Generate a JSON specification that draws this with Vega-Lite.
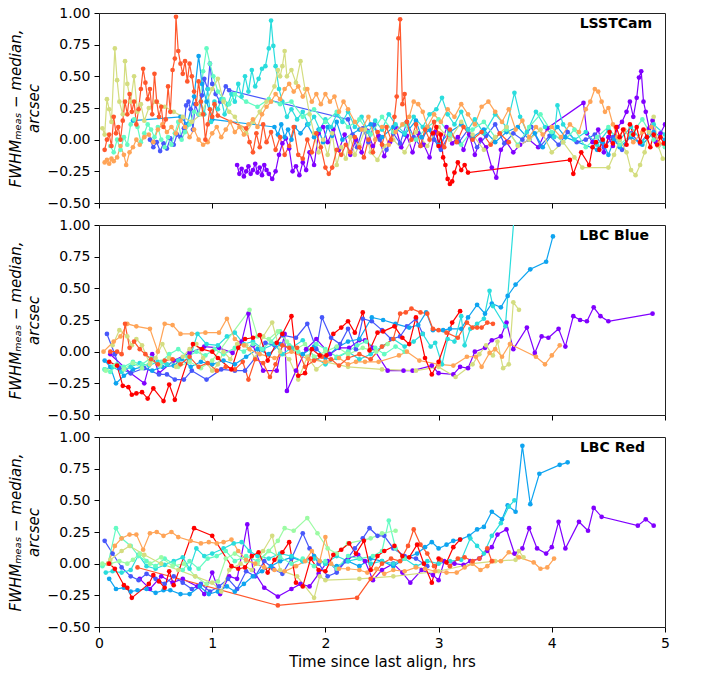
{
"$schema": "https://vega.github.io/schema/vega-lite/v6.json",
"padding": {"left": 7, "top": 5, "right": 5, "bottom": 5},
"background": "white",
"bounds": "flush",
"spacing": 22,
"config": {
 "font": "DejaVu Sans",
 "view": {"stroke": "#222", "strokeWidth": 1},
 "axis": {"grid": false, "domain": false, "tickColor": "#000", "tickSize": 5, "labelFontSize": 14, "labelColor": "#000", "titleFontSize": 15, "titleFontWeight": "normal", "titleColor": "#000", "labelPadding": 4},
 "axisY": {"titleFontStyle": "italic", "titleLineHeight": 18, "titlePadding": 6}
},
"datasets": {
"a": [
{"s":0,"x":1.22,"y":-0.2},{"s":0,"x":1.24,"y":-0.27},{"s":0,"x":1.26,"y":-0.23},{"s":0,"x":1.28,"y":-0.29},{"s":0,"x":1.3,"y":-0.25},{"s":0,"x":1.32,"y":-0.21},{"s":0,"x":1.34,"y":-0.27},{"s":0,"x":1.36,"y":-0.24},{"s":0,"x":1.38,"y":-0.19},{"s":0,"x":1.4,"y":-0.26},{"s":0,"x":1.42,"y":-0.22},{"s":0,"x":1.44,"y":-0.28},{"s":0,"x":1.46,"y":-0.2},{"s":0,"x":1.48,"y":-0.24},{"s":0,"x":1.5,"y":-0.27},{"s":0,"x":1.53,"y":-0.31},{"s":0,"x":1.56,"y":-0.25},{"s":0,"x":1.59,"y":-0.12},{"s":0,"x":1.62,"y":-0.03},{"s":0,"x":1.65,"y":0.01},{"s":0,"x":1.68,"y":-0.07},{"s":0,"x":1.71,"y":-0.25},{"s":0,"x":1.74,"y":-0.21},{"s":0,"x":1.77,"y":-0.28},{"s":0,"x":1.8,"y":-0.18},{"s":0,"x":1.83,"y":-0.24},{"s":0,"x":1.86,"y":-0.1},{"s":0,"x":1.9,"y":-0.2},{"s":0,"x":1.94,"y":0.05},{"s":0,"x":1.98,"y":0.1},{"s":0,"x":2.02,"y":-0.02},{"s":0,"x":2.07,"y":0.08},{"s":0,"x":2.12,"y":-0.08},{"s":0,"x":2.17,"y":0.04},{"s":0,"x":2.22,"y":-0.12},{"s":0,"x":2.27,"y":0.0},{"s":0,"x":2.32,"y":-0.1},{"s":0,"x":2.37,"y":0.07},{"s":0,"x":2.42,"y":-0.05},{"s":0,"x":2.47,"y":0.03},{"s":0,"x":2.52,"y":-0.13},{"s":0,"x":2.57,"y":-0.02},{"s":0,"x":2.62,"y":0.1},{"s":0,"x":2.67,"y":-0.06},{"s":0,"x":2.72,"y":0.03},{"s":0,"x":2.77,"y":-0.1},{"s":0,"x":2.82,"y":0.05},{"s":0,"x":2.87,"y":-0.04},{"s":0,"x":2.92,"y":-0.14},{"s":0,"x":2.97,"y":0.06},{"s":0,"x":3.02,"y":-0.07},{"s":0,"x":3.07,"y":0.1},{"s":0,"x":3.12,"y":-0.03},{"s":0,"x":3.17,"y":0.02},{"s":0,"x":3.22,"y":-0.08},{"s":0,"x":3.27,"y":0.04},{"s":0,"x":3.32,"y":-0.12},{"s":0,"x":3.37,"y":0.0},{"s":0,"x":3.42,"y":-0.06},{"s":0,"x":3.47,"y":-0.22},{"s":0,"x":3.51,"y":-0.3},{"s":0,"x":3.55,"y":-0.08},{"s":0,"x":3.6,"y":-0.02},{"s":0,"x":3.66,"y":-0.1},{"s":0,"x":3.72,"y":-0.04},{"s":0,"x":3.8,"y":0.0},{"s":0,"x":3.88,"y":-0.06},{"s":0,"x":3.96,"y":0.09},{"s":0,"x":4.28,"y":0.29},{"s":0,"x":4.31,"y":0.05},{"s":0,"x":4.36,"y":-0.02},{"s":0,"x":4.41,"y":0.08},{"s":0,"x":4.46,"y":-0.1},{"s":0,"x":4.5,"y":0.02},{"s":0,"x":4.54,"y":-0.05},{"s":0,"x":4.58,"y":0.1},{"s":0,"x":4.62,"y":0.14},{"s":0,"x":4.66,"y":0.22},{"s":0,"x":4.69,"y":0.3},{"s":0,"x":4.72,"y":0.18},{"s":0,"x":4.75,"y":0.33},{"s":0,"x":4.77,"y":0.49},{"s":0,"x":4.79,"y":0.54},{"s":0,"x":4.81,"y":0.3},{"s":0,"x":4.83,"y":0.22},{"s":0,"x":4.86,"y":0.09},{"s":0,"x":4.89,"y":0.15},{"s":0,"x":4.92,"y":-0.02},{"s":0,"x":4.96,"y":0.05},{"s":0,"x":5.0,"y":0.12},
{"s":1,"x":0.45,"y":0.0},{"s":1,"x":0.48,"y":-0.06},{"s":1,"x":0.51,"y":-0.02},{"s":1,"x":0.54,"y":-0.09},{"s":1,"x":0.57,"y":-0.03},{"s":1,"x":0.6,"y":-0.07},{"s":1,"x":0.63,"y":0.01},{"s":1,"x":0.66,"y":-0.04},{"s":1,"x":0.69,"y":0.04},{"s":1,"x":0.72,"y":0.02},{"s":1,"x":0.75,"y":0.09},{"s":1,"x":0.77,"y":0.27},{"s":1,"x":0.79,"y":0.3},{"s":1,"x":0.81,"y":0.24},{"s":1,"x":0.83,"y":0.08},{"s":1,"x":0.85,"y":0.28},{"s":1,"x":0.88,"y":0.2},{"s":1,"x":0.91,"y":0.35},{"s":1,"x":0.93,"y":0.48},{"s":1,"x":0.96,"y":0.4},{"s":1,"x":0.98,"y":0.6},{"s":1,"x":1.0,"y":0.44},{"s":1,"x":1.03,"y":0.36},{"s":1,"x":1.07,"y":0.3},{"s":1,"x":1.12,"y":0.42},{"s":1,"x":1.15,"y":0.39},{"s":1,"x":2.2,"y":0.16},{"s":1,"x":2.24,"y":0.04},{"s":1,"x":2.28,"y":-0.06},{"s":1,"x":2.33,"y":0.09},{"s":1,"x":2.38,"y":-0.02},{"s":1,"x":2.43,"y":0.12},{"s":1,"x":2.48,"y":0.0},{"s":1,"x":2.54,"y":-0.08},{"s":1,"x":2.6,"y":0.05},{"s":1,"x":2.66,"y":-0.03},{"s":1,"x":2.72,"y":0.14},{"s":1,"x":2.78,"y":0.02},{"s":1,"x":2.84,"y":-0.05},{"s":1,"x":2.9,"y":0.1},{"s":1,"x":2.96,"y":0.0},{"s":1,"x":3.02,"y":-0.08},{"s":1,"x":3.1,"y":0.05},{"s":1,"x":3.18,"y":-0.02},{"s":1,"x":3.26,"y":0.08},{"s":1,"x":3.34,"y":-0.06},{"s":1,"x":3.42,"y":0.03},{"s":1,"x":3.5,"y":0.12},{"s":1,"x":3.58,"y":-0.03},{"s":1,"x":3.66,"y":0.05},{"s":1,"x":3.74,"y":0.0},{"s":1,"x":3.82,"y":0.1},{"s":1,"x":3.9,"y":-0.05},{"s":1,"x":3.98,"y":0.03},{"s":1,"x":4.06,"y":-0.04},{"s":1,"x":4.14,"y":0.06},{"s":1,"x":4.22,"y":-0.02},{"s":1,"x":4.3,"y":0.0},{"s":1,"x":4.38,"y":0.04},{"s":1,"x":4.46,"y":-0.06},{"s":1,"x":4.54,"y":0.02},{"s":1,"x":4.62,"y":-0.08},{"s":1,"x":4.7,"y":0.05},{"s":1,"x":4.78,"y":-0.03},{"s":1,"x":4.86,"y":0.06},{"s":1,"x":4.94,"y":-0.05},
{"s":2,"x":0.3,"y":0.15},{"s":2,"x":0.72,"y":0.18},{"s":2,"x":0.78,"y":0.12},{"s":2,"x":0.84,"y":0.34},{"s":2,"x":0.88,"y":0.66},{"s":2,"x":0.91,"y":0.44},{"s":2,"x":0.95,"y":0.3},{"s":2,"x":1.0,"y":0.16},{"s":2,"x":1.55,"y":0.1},{"s":2,"x":1.58,"y":0.04},{"s":2,"x":1.61,"y":0.12},{"s":2,"x":1.64,"y":0.02},{"s":2,"x":1.67,"y":0.08},{"s":2,"x":1.7,"y":0.0},{"s":2,"x":1.73,"y":0.1},{"s":2,"x":1.78,"y":0.05},{"s":2,"x":1.84,"y":0.12},{"s":2,"x":1.9,"y":0.02},{"s":2,"x":1.94,"y":0.08},{"s":2,"x":1.98,"y":-0.02},{"s":2,"x":2.02,"y":0.1},{"s":2,"x":2.06,"y":0.03},{"s":2,"x":2.1,"y":0.14},{"s":2,"x":2.15,"y":0.0},{"s":2,"x":2.3,"y":0.08},{"s":2,"x":2.4,"y":0.12},{"s":2,"x":2.5,"y":0.02},{"s":2,"x":2.6,"y":0.1},{"s":2,"x":2.7,"y":0.04},{"s":2,"x":2.8,"y":0.15},{"s":2,"x":2.85,"y":0.02},{"s":2,"x":2.92,"y":0.08},{"s":2,"x":3.0,"y":-0.04},{"s":2,"x":3.1,"y":0.06},{"s":2,"x":3.2,"y":0.12},{"s":2,"x":3.3,"y":0.02},{"s":2,"x":3.4,"y":0.08},{"s":2,"x":3.5,"y":-0.02},{"s":2,"x":3.6,"y":0.06},{"s":2,"x":3.7,"y":0.1},{"s":2,"x":3.8,"y":0.0},{"s":2,"x":3.85,"y":0.05},{"s":2,"x":3.92,"y":-0.06},{"s":2,"x":4.0,"y":0.04},{"s":2,"x":4.05,"y":0.1},{"s":2,"x":4.12,"y":0.02},{"s":2,"x":4.4,"y":-0.08},{"s":2,"x":4.45,"y":-0.02},{"s":2,"x":4.5,"y":-0.12},{"s":2,"x":4.55,"y":0.0},{"s":2,"x":4.6,"y":-0.06},{"s":2,"x":4.7,"y":0.02},{"s":2,"x":4.8,"y":-0.04},{"s":2,"x":4.9,"y":0.06},{"s":2,"x":5.0,"y":0.0},
{"s":3,"x":0.9,"y":0.3},{"s":3,"x":0.93,"y":0.2},{"s":3,"x":0.96,"y":0.4},{"s":3,"x":0.99,"y":0.14},{"s":3,"x":1.02,"y":0.3},{"s":3,"x":1.05,"y":0.24},{"s":3,"x":1.08,"y":0.32},{"s":3,"x":1.11,"y":0.2},{"s":3,"x":1.14,"y":0.28},{"s":3,"x":1.17,"y":0.36},{"s":3,"x":1.2,"y":0.3},{"s":3,"x":1.23,"y":0.44},{"s":3,"x":1.26,"y":0.34},{"s":3,"x":1.29,"y":0.5},{"s":3,"x":1.32,"y":0.38},{"s":3,"x":1.35,"y":0.55},{"s":3,"x":1.38,"y":0.42},{"s":3,"x":1.41,"y":0.48},{"s":3,"x":1.44,"y":0.56},{"s":3,"x":1.47,"y":0.58},{"s":3,"x":1.5,"y":0.72},{"s":3,"x":1.52,"y":0.94},{"s":3,"x":1.54,"y":0.74},{"s":3,"x":1.56,"y":0.58},{"s":3,"x":1.59,"y":0.4},{"s":3,"x":1.62,"y":0.3},{"s":3,"x":1.66,"y":0.18},{"s":3,"x":1.7,"y":0.24},{"s":3,"x":1.75,"y":0.16},{"s":3,"x":1.8,"y":0.22},{"s":3,"x":1.85,"y":0.12},{"s":3,"x":1.9,"y":0.18},{"s":3,"x":1.95,"y":0.08},{"s":3,"x":2.0,"y":0.16},{"s":3,"x":2.05,"y":0.1},{"s":3,"x":2.1,"y":0.2},{"s":3,"x":2.15,"y":0.14},{"s":3,"x":2.2,"y":0.22},{"s":3,"x":2.26,"y":0.1},{"s":3,"x":2.32,"y":0.18},{"s":3,"x":2.38,"y":0.06},{"s":3,"x":2.44,"y":0.15},{"s":3,"x":2.5,"y":0.08},{"s":3,"x":2.56,"y":0.2},{"s":3,"x":2.62,"y":0.12},{"s":3,"x":2.7,"y":0.05},{"s":3,"x":2.78,"y":0.18},{"s":3,"x":2.86,"y":0.1},{"s":3,"x":2.92,"y":0.2},{"s":3,"x":2.98,"y":0.24},{"s":3,"x":3.03,"y":0.33},{"s":3,"x":3.08,"y":0.2},{"s":3,"x":3.14,"y":0.12},{"s":3,"x":3.2,"y":0.22},{"s":3,"x":3.26,"y":0.08},{"s":3,"x":3.32,"y":0.16},{"s":3,"x":3.4,"y":0.05},{"s":3,"x":3.5,"y":0.2},{"s":3,"x":3.6,"y":0.1},{"s":3,"x":3.67,"y":0.37},{"s":3,"x":3.72,"y":0.18},{"s":3,"x":3.78,"y":0.06},{"s":3,"x":3.86,"y":0.22},{"s":3,"x":3.94,"y":0.1},{"s":3,"x":4.02,"y":0.02},{"s":3,"x":4.05,"y":0.27},{"s":3,"x":4.1,"y":0.12},{"s":3,"x":4.2,"y":0.0},{"s":3,"x":4.3,"y":0.06},{"s":3,"x":4.4,"y":-0.04},{"s":3,"x":4.5,"y":0.08},{"s":3,"x":4.6,"y":0.0},{"s":3,"x":4.7,"y":0.1},{"s":3,"x":4.8,"y":-0.02},{"s":3,"x":4.9,"y":0.12},{"s":3,"x":5.0,"y":0.04},
{"s":4,"x":0.1,"y":-0.05},{"s":4,"x":0.13,"y":-0.1},{"s":4,"x":0.16,"y":0.0},{"s":4,"x":0.19,"y":-0.08},{"s":4,"x":0.22,"y":0.02},{"s":4,"x":0.25,"y":-0.04},{"s":4,"x":0.28,"y":0.12},{"s":4,"x":0.31,"y":0.16},{"s":4,"x":0.34,"y":0.1},{"s":4,"x":0.37,"y":-0.02},{"s":4,"x":0.4,"y":0.05},{"s":4,"x":0.43,"y":0.12},{"s":4,"x":0.46,"y":0.08},{"s":4,"x":0.49,"y":0.02},{"s":4,"x":0.52,"y":0.1},{"s":4,"x":0.55,"y":0.0},{"s":4,"x":0.58,"y":-0.06},{"s":4,"x":0.61,"y":0.02},{"s":4,"x":0.64,"y":-0.04},{"s":4,"x":0.67,"y":0.05},{"s":4,"x":0.7,"y":0.14},{"s":4,"x":0.73,"y":0.0},{"s":4,"x":0.76,"y":0.06},{"s":4,"x":0.8,"y":0.12},{"s":4,"x":0.84,"y":0.22},{"s":4,"x":0.88,"y":0.2},{"s":4,"x":0.92,"y":0.54},{"s":4,"x":0.95,"y":0.72},{"s":4,"x":0.98,"y":0.6},{"s":4,"x":1.01,"y":0.5},{"s":4,"x":1.05,"y":0.38},{"s":4,"x":1.1,"y":0.32},{"s":4,"x":1.15,"y":0.28},{"s":4,"x":1.2,"y":0.36},{"s":4,"x":1.3,"y":0.3},{"s":4,"x":1.4,"y":0.26},{"s":4,"x":1.5,"y":0.32},{"s":4,"x":1.6,"y":0.28},{"s":4,"x":1.7,"y":0.3},{"s":4,"x":1.8,"y":0.18},{"s":4,"x":1.9,"y":0.24},{"s":4,"x":2.0,"y":0.14},{"s":4,"x":2.1,"y":0.22},{"s":4,"x":2.2,"y":0.1},{"s":4,"x":2.3,"y":0.16},{"s":4,"x":2.4,"y":0.04},{"s":4,"x":2.5,"y":0.18},{"s":4,"x":2.6,"y":0.06},{"s":4,"x":2.7,"y":0.12},{"s":4,"x":2.8,"y":0.0},{"s":4,"x":2.9,"y":0.1},{"s":4,"x":3.0,"y":0.16},{"s":4,"x":3.1,"y":0.04},{"s":4,"x":3.2,"y":-0.04},{"s":4,"x":3.3,"y":0.08},{"s":4,"x":3.4,"y":0.14},{"s":4,"x":3.5,"y":0.02},{"s":4,"x":3.6,"y":0.08},{"s":4,"x":3.7,"y":-0.04},{"s":4,"x":3.8,"y":0.1},{"s":4,"x":3.9,"y":0.2},{"s":4,"x":4.0,"y":0.06},{"s":4,"x":4.1,"y":-0.02},{"s":4,"x":4.2,"y":0.08},{"s":4,"x":4.3,"y":-0.06},{"s":4,"x":4.4,"y":0.02},{"s":4,"x":4.5,"y":0.1},{"s":4,"x":4.6,"y":-0.04},{"s":4,"x":4.7,"y":0.04},{"s":4,"x":4.8,"y":0.16},{"s":4,"x":4.9,"y":0.0},{"s":4,"x":5.0,"y":-0.06},
{"s":6,"x":0.03,"y":0.09},{"s":6,"x":0.05,"y":0.04},{"s":6,"x":0.07,"y":0.32},{"s":6,"x":0.09,"y":0.24},{"s":6,"x":0.11,"y":0.14},{"s":6,"x":0.14,"y":0.72},{"s":6,"x":0.16,"y":0.47},{"s":6,"x":0.18,"y":0.3},{"s":6,"x":0.21,"y":0.2},{"s":6,"x":0.23,"y":0.62},{"s":6,"x":0.25,"y":0.44},{"s":6,"x":0.28,"y":0.3},{"s":6,"x":0.31,"y":0.5},{"s":6,"x":0.34,"y":0.22},{"s":6,"x":0.37,"y":0.28},{"s":6,"x":0.4,"y":0.15},{"s":6,"x":0.44,"y":0.25},{"s":6,"x":0.5,"y":0.3},{"s":6,"x":0.58,"y":0.26},{"s":6,"x":0.66,"y":0.22},{"s":6,"x":0.74,"y":0.18},{"s":6,"x":0.82,"y":0.14},{"s":6,"x":0.9,"y":0.2},{"s":6,"x":1.0,"y":0.4},{"s":6,"x":1.05,"y":0.48},{"s":6,"x":1.1,"y":0.3},{"s":6,"x":1.15,"y":0.22},{"s":6,"x":1.2,"y":0.18},{"s":6,"x":1.25,"y":0.1},{"s":6,"x":1.3,"y":0.05},{"s":6,"x":1.36,"y":0.14},{"s":6,"x":1.42,"y":0.22},{"s":6,"x":1.48,"y":0.3},{"s":6,"x":1.55,"y":0.42},{"s":6,"x":1.58,"y":0.55},{"s":6,"x":1.6,"y":0.5},{"s":6,"x":1.62,"y":0.58},{"s":6,"x":1.64,"y":0.7},{"s":6,"x":1.66,"y":0.5},{"s":6,"x":1.7,"y":0.55},{"s":6,"x":1.74,"y":0.45},{"s":6,"x":1.78,"y":0.62},{"s":6,"x":1.82,"y":0.4},{"s":6,"x":1.86,"y":0.2},{"s":6,"x":1.9,"y":0.05},{"s":6,"x":1.94,"y":-0.1},{"s":6,"x":1.98,"y":0.0},{"s":6,"x":2.02,"y":-0.12},{"s":6,"x":2.06,"y":0.05},{"s":6,"x":2.1,"y":-0.2},{"s":6,"x":2.14,"y":-0.06},{"s":6,"x":2.18,"y":-0.15},{"s":6,"x":2.22,"y":0.02},{"s":6,"x":2.26,"y":-0.12},{"s":6,"x":2.3,"y":-0.04},{"s":6,"x":2.35,"y":0.08},{"s":6,"x":2.4,"y":-0.1},{"s":6,"x":2.46,"y":-0.16},{"s":6,"x":2.52,"y":-0.05},{"s":6,"x":2.6,"y":0.0},{"s":6,"x":2.7,"y":-0.1},{"s":6,"x":2.8,"y":0.06},{"s":6,"x":2.9,"y":-0.05},{"s":6,"x":3.0,"y":0.1},{"s":6,"x":3.1,"y":0.0},{"s":6,"x":3.2,"y":0.14},{"s":6,"x":3.3,"y":0.04},{"s":6,"x":3.4,"y":-0.08},{"s":6,"x":3.5,"y":0.02},{"s":6,"x":3.6,"y":0.1},{"s":6,"x":3.7,"y":-0.05},{"s":6,"x":3.8,"y":0.0},{"s":6,"x":3.9,"y":0.08},{"s":6,"x":4.0,"y":-0.1},{"s":6,"x":4.1,"y":-0.02},{"s":6,"x":4.2,"y":-0.14},{"s":6,"x":4.27,"y":-0.22},{"s":6,"x":4.5,"y":-0.22},{"s":6,"x":4.55,"y":-0.12},{"s":6,"x":4.6,"y":0.0},{"s":6,"x":4.66,"y":-0.1},{"s":6,"x":4.7,"y":-0.24},{"s":6,"x":4.74,"y":-0.28},{"s":6,"x":4.78,"y":-0.2},{"s":6,"x":4.82,"y":-0.1},{"s":6,"x":4.86,"y":0.06},{"s":6,"x":4.9,"y":0.18},{"s":6,"x":4.94,"y":-0.05},{"s":6,"x":4.98,"y":-0.15},
{"s":7,"x":0.05,"y":-0.18},{"s":7,"x":0.07,"y":-0.16},{"s":7,"x":0.09,"y":-0.19},{"s":7,"x":0.11,"y":-0.15},{"s":7,"x":0.13,"y":-0.17},{"s":7,"x":0.16,"y":-0.14},{"s":7,"x":0.19,"y":-0.05},{"s":7,"x":0.22,"y":-0.12},{"s":7,"x":0.24,"y":-0.2},{"s":7,"x":0.27,"y":-0.1},{"s":7,"x":0.3,"y":-0.06},{"s":7,"x":0.33,"y":0.0},{"s":7,"x":0.36,"y":-0.04},{"s":7,"x":0.4,"y":0.02},{"s":7,"x":0.44,"y":0.04},{"s":7,"x":0.48,"y":-0.02},{"s":7,"x":0.52,"y":0.08},{"s":7,"x":0.56,"y":0.12},{"s":7,"x":0.6,"y":0.06},{"s":7,"x":0.64,"y":0.1},{"s":7,"x":0.68,"y":0.05},{"s":7,"x":0.72,"y":0.15},{"s":7,"x":0.76,"y":0.1},{"s":7,"x":0.8,"y":0.02},{"s":7,"x":0.84,"y":0.08},{"s":7,"x":0.88,"y":0.0},{"s":7,"x":0.92,"y":-0.04},{"s":7,"x":0.96,"y":-0.02},{"s":7,"x":1.0,"y":0.05},{"s":7,"x":1.04,"y":0.1},{"s":7,"x":1.08,"y":0.02},{"s":7,"x":1.12,"y":0.08},{"s":7,"x":1.16,"y":0.14},{"s":7,"x":1.2,"y":0.06},{"s":7,"x":1.24,"y":0.1},{"s":7,"x":1.28,"y":0.04},{"s":7,"x":1.32,"y":0.12},{"s":7,"x":1.36,"y":0.16},{"s":7,"x":1.4,"y":0.1},{"s":7,"x":1.44,"y":0.2},{"s":7,"x":1.48,"y":0.26},{"s":7,"x":1.52,"y":0.3},{"s":7,"x":1.56,"y":0.36},{"s":7,"x":1.6,"y":0.32},{"s":7,"x":1.64,"y":0.4},{"s":7,"x":1.68,"y":0.44},{"s":7,"x":1.72,"y":0.38},{"s":7,"x":1.76,"y":0.42},{"s":7,"x":1.8,"y":0.34},{"s":7,"x":1.84,"y":0.4},{"s":7,"x":1.88,"y":0.3},{"s":7,"x":1.92,"y":0.36},{"s":7,"x":1.96,"y":0.28},{"s":7,"x":2.0,"y":0.36},{"s":7,"x":2.04,"y":0.3},{"s":7,"x":2.08,"y":0.34},{"s":7,"x":2.12,"y":0.22},{"s":7,"x":2.16,"y":0.3},{"s":7,"x":2.2,"y":0.24},{"s":7,"x":2.26,"y":0.14},{"s":7,"x":2.32,"y":0.08},{"s":7,"x":2.38,"y":0.18},{"s":7,"x":2.44,"y":0.0},{"s":7,"x":2.5,"y":0.1},{"s":7,"x":2.56,"y":-0.04},{"s":7,"x":2.62,"y":0.06},{"s":7,"x":2.68,"y":0.12},{"s":7,"x":2.74,"y":0.18},{"s":7,"x":2.78,"y":0.3},{"s":7,"x":2.82,"y":0.28},{"s":7,"x":2.86,"y":0.22},{"s":7,"x":2.9,"y":0.1},{"s":7,"x":2.96,"y":0.2},{"s":7,"x":3.02,"y":0.14},{"s":7,"x":3.08,"y":0.24},{"s":7,"x":3.14,"y":0.18},{"s":7,"x":3.2,"y":0.28},{"s":7,"x":3.26,"y":0.2},{"s":7,"x":3.32,"y":0.12},{"s":7,"x":3.38,"y":0.26},{"s":7,"x":3.44,"y":0.3},{"s":7,"x":3.5,"y":0.22},{"s":7,"x":3.56,"y":0.14},{"s":7,"x":3.62,"y":0.24},{"s":7,"x":3.68,"y":0.08},{"s":7,"x":3.74,"y":0.15},{"s":7,"x":3.8,"y":0.02},{"s":7,"x":3.86,"y":0.1},{"s":7,"x":3.92,"y":0.04},{"s":7,"x":4.0,"y":0.1},{"s":7,"x":4.08,"y":0.02},{"s":7,"x":4.16,"y":0.12},{"s":7,"x":4.24,"y":0.06},{"s":7,"x":4.3,"y":0.24},{"s":7,"x":4.34,"y":0.3},{"s":7,"x":4.38,"y":0.4},{"s":7,"x":4.41,"y":0.38},{"s":7,"x":4.44,"y":0.3},{"s":7,"x":4.47,"y":0.22},{"s":7,"x":4.5,"y":0.25},{"s":7,"x":4.54,"y":0.12},{"s":7,"x":4.58,"y":0.02},{"s":7,"x":4.64,"y":0.08},{"s":7,"x":4.72,"y":-0.02},{"s":7,"x":4.8,"y":0.06},{"s":7,"x":4.88,"y":0.1},{"s":7,"x":4.95,"y":-0.03},
{"s":8,"x":0.05,"y":-0.08},{"s":8,"x":0.07,"y":0.0},{"s":8,"x":0.09,"y":0.04},{"s":8,"x":0.11,"y":-0.05},{"s":8,"x":0.13,"y":0.18},{"s":8,"x":0.15,"y":0.05},{"s":8,"x":0.17,"y":0.1},{"s":8,"x":0.19,"y":0.0},{"s":8,"x":0.21,"y":0.15},{"s":8,"x":0.23,"y":0.3},{"s":8,"x":0.25,"y":0.2},{"s":8,"x":0.27,"y":0.36},{"s":8,"x":0.29,"y":0.22},{"s":8,"x":0.31,"y":0.3},{"s":8,"x":0.33,"y":0.12},{"s":8,"x":0.35,"y":0.24},{"s":8,"x":0.37,"y":0.4},{"s":8,"x":0.39,"y":0.56},{"s":8,"x":0.41,"y":0.45},{"s":8,"x":0.43,"y":0.32},{"s":8,"x":0.45,"y":0.4},{"s":8,"x":0.47,"y":0.2},{"s":8,"x":0.49,"y":0.52},{"s":8,"x":0.51,"y":0.3},{"s":8,"x":0.53,"y":0.18},{"s":8,"x":0.55,"y":0.26},{"s":8,"x":0.57,"y":0.1},{"s":8,"x":0.59,"y":0.16},{"s":8,"x":0.61,"y":0.42},{"s":8,"x":0.63,"y":0.22},{"s":8,"x":0.65,"y":0.55},{"s":8,"x":0.67,"y":0.64},{"s":8,"x":0.68,"y":0.97},{"s":8,"x":0.7,"y":0.7},{"s":8,"x":0.72,"y":0.6},{"s":8,"x":0.74,"y":0.52},{"s":8,"x":0.76,"y":0.62},{"s":8,"x":0.78,"y":0.46},{"s":8,"x":0.8,"y":0.6},{"s":8,"x":0.82,"y":0.5},{"s":8,"x":0.84,"y":0.38},{"s":8,"x":0.86,"y":0.28},{"s":8,"x":0.88,"y":0.46},{"s":8,"x":0.9,"y":0.3},{"s":8,"x":0.92,"y":0.2},{"s":8,"x":0.94,"y":0.0},{"s":8,"x":0.96,"y":0.12},{"s":8,"x":0.98,"y":0.24},{"s":8,"x":1.0,"y":0.18},{"s":8,"x":1.02,"y":0.28},{"s":8,"x":1.05,"y":0.19},{"s":8,"x":1.3,"y":0.09},{"s":8,"x":1.33,"y":-0.02},{"s":8,"x":1.36,"y":-0.1},{"s":8,"x":1.39,"y":0.05},{"s":8,"x":1.42,"y":-0.06},{"s":8,"x":1.45,"y":0.12},{"s":8,"x":1.48,"y":-0.02},{"s":8,"x":1.52,"y":0.06},{"s":8,"x":1.56,"y":-0.08},{"s":8,"x":1.6,"y":0.02},{"s":8,"x":1.64,"y":-0.12},{"s":8,"x":1.68,"y":-0.05},{"s":8,"x":1.72,"y":0.1},{"s":8,"x":1.76,"y":-0.12},{"s":8,"x":1.8,"y":-0.15},{"s":8,"x":1.84,"y":0.0},{"s":8,"x":1.88,"y":-0.1},{"s":8,"x":1.92,"y":0.05},{"s":8,"x":1.96,"y":-0.06},{"s":8,"x":2.0,"y":-0.22},{"s":8,"x":2.03,"y":-0.27},{"s":8,"x":2.06,"y":-0.22},{"s":8,"x":2.1,"y":-0.08},{"s":8,"x":2.14,"y":-0.12},{"s":8,"x":2.18,"y":-0.04},{"s":8,"x":2.22,"y":-0.1},{"s":8,"x":2.26,"y":0.02},{"s":8,"x":2.3,"y":-0.06},{"s":8,"x":2.34,"y":-0.14},{"s":8,"x":2.38,"y":0.0},{"s":8,"x":2.42,"y":-0.1},{"s":8,"x":2.46,"y":0.06},{"s":8,"x":2.5,"y":-0.04},{"s":8,"x":2.54,"y":0.1},{"s":8,"x":2.58,"y":0.0},{"s":8,"x":2.61,"y":0.18},{"s":8,"x":2.63,"y":0.34},{"s":8,"x":2.645,"y":0.8},{"s":8,"x":2.66,"y":0.95},{"s":8,"x":2.68,"y":0.28},{"s":8,"x":2.7,"y":0.36},{"s":8,"x":2.72,"y":0.14},{"s":8,"x":2.76,"y":0.0},{"s":8,"x":2.8,"y":0.12},{"s":8,"x":2.84,"y":-0.05},{"s":8,"x":2.88,"y":0.08},{"s":8,"x":2.92,"y":0.0},{"s":8,"x":2.96,"y":0.14},{"s":8,"x":3.0,"y":0.05},{"s":8,"x":3.05,"y":-0.06},{"s":8,"x":3.1,"y":0.08},{"s":8,"x":3.16,"y":-0.02},{"s":8,"x":3.22,"y":0.1},{"s":8,"x":3.3,"y":0.0},{"s":8,"x":3.38,"y":0.06},{"s":8,"x":3.46,"y":-0.04},{"s":8,"x":3.54,"y":0.05},{"s":8,"x":3.62,"y":-0.02},
{"s":9,"x":2.95,"y":0.05},{"s":9,"x":2.98,"y":0.1},{"s":9,"x":3.0,"y":-0.05},{"s":9,"x":3.02,"y":0.04},{"s":9,"x":3.04,"y":-0.14},{"s":9,"x":3.06,"y":-0.2},{"s":9,"x":3.08,"y":-0.31},{"s":9,"x":3.1,"y":-0.35},{"s":9,"x":3.12,"y":-0.33},{"s":9,"x":3.14,"y":-0.26},{"s":9,"x":3.17,"y":-0.18},{"s":9,"x":3.2,"y":-0.24},{"s":9,"x":3.23,"y":-0.2},{"s":9,"x":3.26,"y":-0.26},{"s":9,"x":4.16,"y":-0.16},{"s":9,"x":4.19,"y":-0.27},{"s":9,"x":4.26,"y":-0.1},{"s":9,"x":4.33,"y":-0.2},{"s":9,"x":4.36,"y":-0.06},{"s":9,"x":4.39,"y":-0.02},{"s":9,"x":4.42,"y":-0.08},{"s":9,"x":4.45,"y":0.0},{"s":9,"x":4.48,"y":-0.05},{"s":9,"x":4.51,"y":0.06},{"s":9,"x":4.54,"y":-0.03},{"s":9,"x":4.57,"y":0.1},{"s":9,"x":4.6,"y":0.02},{"s":9,"x":4.63,"y":0.08},{"s":9,"x":4.66,"y":-0.04},{"s":9,"x":4.69,"y":0.12},{"s":9,"x":4.72,"y":0.04},{"s":9,"x":4.75,"y":0.1},{"s":9,"x":4.78,"y":-0.02},{"s":9,"x":4.81,"y":0.08},{"s":9,"x":4.84,"y":0.02},{"s":9,"x":4.87,"y":-0.06},{"s":9,"x":4.9,"y":0.04},{"s":9,"x":4.93,"y":-0.04},{"s":9,"x":4.96,"y":0.02},{"s":9,"x":4.99,"y":-0.03}
],
"b": [
{"s":0,"x":0.1,"y":-0.02},{"s":0,"x":0.28,"y":-0.17},{"s":0,"x":0.4,"y":-0.25},{"s":0,"x":0.47,"y":-0.02},{"s":0,"x":0.53,"y":-0.17},{"s":0,"x":0.66,"y":-0.07},{"s":0,"x":0.8,"y":-0.01},{"s":0,"x":0.93,"y":0.04},{"s":0,"x":1.06,"y":0.03},{"s":0,"x":1.18,"y":-0.01},{"s":0,"x":1.26,"y":0.08},{"s":0,"x":1.32,"y":0.3},{"s":0,"x":1.36,"y":0.05},{"s":0,"x":1.45,"y":-0.15},{"s":0,"x":1.57,"y":-0.15},{"s":0,"x":1.64,"y":0.14},{"s":0,"x":1.66,"y":-0.31},{"s":0,"x":1.74,"y":-0.15},{"s":0,"x":1.83,"y":0.02},{"s":0,"x":1.92,"y":0.1},{"s":0,"x":2.04,"y":-0.02},{"s":0,"x":2.12,"y":0.03},{"s":0,"x":2.21,"y":0.03},{"s":0,"x":2.3,"y":0.09},{"s":0,"x":2.35,"y":0.09},{"s":0,"x":2.42,"y":0.03},{"s":0,"x":2.55,"y":-0.15},{"s":0,"x":2.69,"y":-0.15},{"s":0,"x":2.77,"y":-0.15},{"s":0,"x":2.94,"y":-0.11},{"s":0,"x":3.0,"y":-0.17},{"s":0,"x":3.13,"y":-0.18},{"s":0,"x":3.19,"y":-0.12},{"s":0,"x":3.26,"y":-0.13},{"s":0,"x":3.32,"y":0.0},{"s":0,"x":3.41,"y":0.03},{"s":0,"x":3.47,"y":0.09},{"s":0,"x":3.55,"y":0.12},{"s":0,"x":3.6,"y":0.23},{"s":0,"x":3.66,"y":0.02},{"s":0,"x":3.78,"y":0.19},{"s":0,"x":3.85,"y":-0.01},{"s":0,"x":3.91,"y":0.12},{"s":0,"x":3.97,"y":0.11},{"s":0,"x":4.06,"y":0.18},{"s":0,"x":4.12,"y":0.04},{"s":0,"x":4.19,"y":0.28},{"s":0,"x":4.25,"y":0.25},{"s":0,"x":4.31,"y":0.24},{"s":0,"x":4.37,"y":0.35},{"s":0,"x":4.43,"y":0.28},{"s":0,"x":4.5,"y":0.24},{"s":0,"x":4.89,"y":0.3},
{"s":1,"x":0.07,"y":0.14},{"s":1,"x":0.14,"y":-0.02},{"s":1,"x":0.18,"y":-0.13},{"s":1,"x":0.28,"y":-0.17},{"s":1,"x":0.4,"y":-0.13},{"s":1,"x":0.53,"y":-0.18},{"s":1,"x":0.6,"y":-0.18},{"s":1,"x":0.67,"y":-0.22},{"s":1,"x":0.75,"y":-0.22},{"s":1,"x":0.82,"y":-0.15},{"s":1,"x":0.95,"y":-0.22},{"s":1,"x":1.08,"y":-0.14},{"s":1,"x":1.2,"y":-0.15},{"s":1,"x":1.29,"y":-0.15},{"s":1,"x":1.38,"y":-0.05},{"s":1,"x":1.47,"y":0.07},{"s":1,"x":1.55,"y":0.05},{"s":1,"x":1.62,"y":0.13},{"s":1,"x":1.74,"y":0.11},{"s":1,"x":1.84,"y":0.22},{"s":1,"x":1.92,"y":0.02},{"s":1,"x":1.97,"y":0.27},{"s":1,"x":2.05,"y":0.11},{"s":1,"x":2.13,"y":0.06},{"s":1,"x":2.2,"y":0.18},{"s":1,"x":2.27,"y":0.02},{"s":1,"x":2.33,"y":0.26},{"s":1,"x":2.41,"y":0.24},{"s":1,"x":2.5,"y":0.17},{"s":1,"x":2.58,"y":0.1},{"s":1,"x":2.66,"y":0.12},{"s":1,"x":2.72,"y":0.2},{"s":1,"x":2.8,"y":0.26},{"s":1,"x":2.86,"y":0.14},
{"s":2,"x":0.05,"y":-0.07},{"s":2,"x":0.1,"y":-0.12},{"s":2,"x":0.15,"y":-0.25},{"s":2,"x":0.22,"y":-0.19},{"s":2,"x":0.3,"y":-0.14},{"s":2,"x":0.38,"y":-0.12},{"s":2,"x":0.47,"y":-0.15},{"s":2,"x":0.56,"y":-0.12},{"s":2,"x":0.66,"y":-0.11},{"s":2,"x":0.73,"y":-0.06},{"s":2,"x":0.81,"y":-0.12},{"s":2,"x":0.9,"y":-0.08},{"s":2,"x":1.0,"y":-0.1},{"s":2,"x":1.1,"y":-0.07},{"s":2,"x":1.2,"y":-0.1},{"s":2,"x":1.3,"y":-0.04},{"s":2,"x":1.4,"y":0.02},{"s":2,"x":1.5,"y":-0.02},{"s":2,"x":1.6,"y":0.06},{"s":2,"x":1.7,"y":0.02},{"s":2,"x":1.8,"y":-0.02},{"s":2,"x":1.9,"y":0.04},{"s":2,"x":2.0,"y":-0.05},{"s":2,"x":2.1,"y":0.03},{"s":2,"x":2.2,"y":0.08},{"s":2,"x":2.3,"y":0.1},{"s":2,"x":2.41,"y":0.27},{"s":2,"x":2.51,"y":0.25},{"s":2,"x":2.62,"y":0.22},{"s":2,"x":2.74,"y":0.19},{"s":2,"x":2.82,"y":0.21},{"s":2,"x":2.89,"y":0.31},{"s":2,"x":2.95,"y":0.17},{"s":2,"x":3.04,"y":0.17},{"s":2,"x":3.1,"y":0.18},{"s":2,"x":3.2,"y":0.18},{"s":2,"x":3.26,"y":0.27},{"s":2,"x":3.34,"y":0.37},{"s":2,"x":3.41,"y":0.3},{"s":2,"x":3.47,"y":0.38},{"s":2,"x":3.55,"y":0.35},{"s":2,"x":3.61,"y":0.44},{"s":2,"x":3.68,"y":0.53},{"s":2,"x":3.81,"y":0.65},{"s":2,"x":3.95,"y":0.71},{"s":2,"x":4.01,"y":0.91},
{"s":3,"x":0.05,"y":-0.14},{"s":3,"x":0.12,"y":-0.12},{"s":3,"x":0.2,"y":-0.16},{"s":3,"x":0.28,"y":-0.12},{"s":3,"x":0.36,"y":-0.09},{"s":3,"x":0.44,"y":-0.11},{"s":3,"x":0.52,"y":-0.08},{"s":3,"x":0.6,"y":-0.1},{"s":3,"x":0.7,"y":-0.07},{"s":3,"x":0.8,"y":-0.06},{"s":3,"x":0.87,"y":0.14},{"s":3,"x":0.95,"y":0.06},{"s":3,"x":1.05,"y":0.05},{"s":3,"x":1.13,"y":0.12},{"s":3,"x":1.2,"y":0.15},{"s":3,"x":1.28,"y":0.06},{"s":3,"x":1.36,"y":0.08},{"s":3,"x":1.45,"y":0.02},{"s":3,"x":1.55,"y":0.06},{"s":3,"x":1.62,"y":-0.02},{"s":3,"x":1.7,"y":0.03},{"s":3,"x":1.8,"y":0.09},{"s":3,"x":1.9,"y":-0.04},{"s":3,"x":2.0,"y":-0.1},{"s":3,"x":2.1,"y":-0.05},{"s":3,"x":2.2,"y":0.0},{"s":3,"x":2.3,"y":-0.06},{"s":3,"x":2.4,"y":-0.02},{"s":3,"x":2.5,"y":0.04},{"s":3,"x":2.6,"y":0.1},{"s":3,"x":2.7,"y":0.04},{"s":3,"x":2.78,"y":0.08},{"s":3,"x":2.86,"y":0.14},{"s":3,"x":2.93,"y":0.04},{"s":3,"x":2.97,"y":0.07},{"s":3,"x":3.03,"y":-0.1},{"s":3,"x":3.08,"y":0.1},{"s":3,"x":3.14,"y":0.08},{"s":3,"x":3.2,"y":0.28},{"s":3,"x":3.23,"y":0.05},{"s":3,"x":3.28,"y":0.18},{"s":3,"x":3.34,"y":0.22},{"s":3,"x":3.4,"y":0.26},{"s":3,"x":3.45,"y":0.48},{"s":3,"x":3.48,"y":0.36},{"s":3,"x":3.59,"y":0.2},{"s":3,"x":3.75,"y":2.0},
{"s":4,"x":0.05,"y":-0.14},{"s":4,"x":0.1,"y":-0.16},{"s":4,"x":0.16,"y":-0.1},{"s":4,"x":0.22,"y":-0.12},{"s":4,"x":0.3,"y":-0.08},{"s":4,"x":0.38,"y":-0.1},{"s":4,"x":0.46,"y":-0.05},{"s":4,"x":0.55,"y":-0.08},{"s":4,"x":0.62,"y":-0.02},{"s":4,"x":0.7,"y":0.02},{"s":4,"x":0.78,"y":-0.04},{"s":4,"x":0.86,"y":0.0},{"s":4,"x":0.94,"y":-0.03},{"s":4,"x":1.02,"y":0.02},{"s":4,"x":1.1,"y":-0.02},{"s":4,"x":1.2,"y":0.03},{"s":4,"x":1.28,"y":0.0},{"s":4,"x":1.36,"y":0.06},{"s":4,"x":1.44,"y":0.02},{"s":4,"x":1.52,"y":0.08},{"s":4,"x":1.6,"y":0.16},{"s":4,"x":1.68,"y":0.05},{"s":4,"x":1.76,"y":0.0},{"s":4,"x":1.84,"y":-0.04},{"s":4,"x":1.92,"y":0.06},{"s":4,"x":2.0,"y":0.02},{"s":4,"x":2.1,"y":-0.04},{"s":4,"x":2.2,"y":0.0},{"s":4,"x":2.28,"y":0.05},{"s":4,"x":2.36,"y":0.08},{"s":4,"x":2.44,"y":0.03},{"s":4,"x":2.52,"y":-0.02},{"s":4,"x":2.62,"y":0.04},{"s":4,"x":2.7,"y":0.0},
{"s":5,"x":0.06,"y":-0.15},{"s":5,"x":0.14,"y":-0.11},{"s":5,"x":0.22,"y":-0.14},{"s":5,"x":0.3,"y":-0.09},{"s":5,"x":0.38,"y":-0.13},{"s":5,"x":0.46,"y":-0.07},{"s":5,"x":0.54,"y":-0.11},{"s":5,"x":0.62,"y":-0.05},{"s":5,"x":0.7,"y":-0.12},{"s":5,"x":0.8,"y":-0.08},{"s":5,"x":0.9,"y":-0.13},{"s":5,"x":1.0,"y":-0.07},{"s":5,"x":1.33,"y":0.33},{"s":5,"x":1.4,"y":0.12},{"s":5,"x":1.5,"y":0.1},{"s":5,"x":1.58,"y":0.16},{"s":5,"x":1.66,"y":0.08},{"s":5,"x":1.74,"y":0.02},{"s":5,"x":1.82,"y":0.06},{"s":5,"x":1.9,"y":-0.04},{"s":5,"x":2.0,"y":0.0},{"s":5,"x":2.1,"y":0.04},{"s":5,"x":2.2,"y":-0.02},{"s":5,"x":2.33,"y":0.03},{"s":5,"x":2.45,"y":0.0},{"s":5,"x":2.55,"y":0.06},
{"s":6,"x":0.12,"y":0.05},{"s":6,"x":0.18,"y":0.17},{"s":6,"x":0.25,"y":0.12},{"s":6,"x":0.29,"y":0.05},{"s":6,"x":0.33,"y":0.1},{"s":6,"x":0.38,"y":0.05},{"s":6,"x":0.45,"y":-0.1},{"s":6,"x":0.5,"y":-0.05},{"s":6,"x":0.56,"y":0.06},{"s":6,"x":0.62,"y":-0.05},{"s":6,"x":0.68,"y":-0.12},{"s":6,"x":0.74,"y":-0.04},{"s":6,"x":0.8,"y":0.02},{"s":6,"x":0.86,"y":0.06},{"s":6,"x":0.92,"y":-0.05},{"s":6,"x":1.0,"y":-0.15},{"s":6,"x":1.05,"y":-0.1},{"s":6,"x":1.1,"y":0.0},{"s":6,"x":1.16,"y":-0.06},{"s":6,"x":1.22,"y":0.06},{"s":6,"x":1.3,"y":0.05},{"s":6,"x":1.38,"y":-0.05},{"s":6,"x":1.45,"y":0.12},{"s":6,"x":1.53,"y":0.23},{"s":6,"x":1.6,"y":0.0},{"s":6,"x":1.68,"y":-0.06},{"s":6,"x":1.76,"y":-0.22},{"s":6,"x":1.84,"y":-0.04},{"s":6,"x":1.92,"y":-0.14},{"s":6,"x":2.0,"y":-0.08},{"s":6,"x":2.2,"y":-0.12},{"s":6,"x":2.5,"y":-0.14},{"s":6,"x":2.8,"y":-0.15},{"s":6,"x":3.0,"y":-0.12},{"s":6,"x":3.15,"y":-0.2},{"s":6,"x":3.3,"y":-0.1},{"s":6,"x":3.36,"y":-0.02},{"s":6,"x":3.42,"y":0.05},{"s":6,"x":3.48,"y":-0.03},{"s":6,"x":3.52,"y":0.08},{"s":6,"x":3.57,"y":-0.13},{"s":6,"x":3.62,"y":-0.1},{"s":6,"x":3.66,"y":0.39},{"s":6,"x":3.71,"y":0.33},
{"s":7,"x":0.04,"y":0.0},{"s":7,"x":0.13,"y":0.08},{"s":7,"x":0.19,"y":0.12},{"s":7,"x":0.25,"y":0.22},{"s":7,"x":0.33,"y":0.2},{"s":7,"x":0.45,"y":0.18},{"s":7,"x":0.52,"y":0.0},{"s":7,"x":0.58,"y":0.22},{"s":7,"x":0.65,"y":0.21},{"s":7,"x":0.72,"y":0.14},{"s":7,"x":0.82,"y":0.14},{"s":7,"x":0.94,"y":0.15},{"s":7,"x":1.06,"y":0.15},{"s":7,"x":1.13,"y":0.26},{"s":7,"x":1.2,"y":0.1},{"s":7,"x":1.28,"y":0.05},{"s":7,"x":1.33,"y":0.02},{"s":7,"x":1.42,"y":-0.02},{"s":7,"x":1.55,"y":-0.05},{"s":7,"x":1.7,"y":0.0},{"s":7,"x":1.85,"y":-0.06},{"s":7,"x":2.0,"y":-0.08},{"s":7,"x":2.12,"y":-0.05},{"s":7,"x":2.2,"y":-0.1},{"s":7,"x":2.27,"y":-0.08},{"s":7,"x":2.35,"y":-0.08},{"s":7,"x":2.47,"y":-0.08},{"s":7,"x":2.65,"y":-0.03},{"s":7,"x":2.72,"y":0.0},{"s":7,"x":2.83,"y":-0.07},{"s":7,"x":3.0,"y":-0.1},{"s":7,"x":3.13,"y":-0.11},{"s":7,"x":3.25,"y":-0.04},{"s":7,"x":3.33,"y":-0.04},{"s":7,"x":3.38,"y":-0.12},{"s":7,"x":3.45,"y":-0.01},{"s":7,"x":3.5,"y":0.02},{"s":7,"x":3.56,"y":-0.04},{"s":7,"x":3.63,"y":0.06},{"s":7,"x":3.86,"y":-0.04},{"s":7,"x":3.94,"y":-0.1},{"s":7,"x":4.0,"y":-0.03},{"s":7,"x":4.07,"y":0.05},
{"s":8,"x":0.1,"y":0.0},{"s":8,"x":0.16,"y":0.0},{"s":8,"x":0.2,"y":-0.02},{"s":8,"x":0.23,"y":0.22},{"s":8,"x":0.27,"y":0.03},{"s":8,"x":0.31,"y":0.08},{"s":8,"x":0.36,"y":0.02},{"s":8,"x":0.41,"y":-0.02},{"s":8,"x":0.46,"y":-0.06},{"s":8,"x":0.52,"y":-0.1},{"s":8,"x":0.58,"y":-0.07},{"s":8,"x":0.65,"y":-0.06},{"s":8,"x":0.72,"y":-0.1},{"s":8,"x":0.8,"y":-0.04},{"s":8,"x":0.88,"y":-0.12},{"s":8,"x":0.96,"y":-0.09},{"s":8,"x":1.04,"y":-0.15},{"s":8,"x":1.12,"y":-0.12},{"s":8,"x":1.2,"y":-0.14},{"s":8,"x":1.27,"y":-0.08},{"s":8,"x":1.32,"y":-0.22},{"s":8,"x":1.38,"y":-0.06},{"s":8,"x":1.45,"y":-0.09},{"s":8,"x":1.51,"y":-0.2},{"s":8,"x":1.56,"y":-0.1},{"s":8,"x":1.62,"y":0.05},{"s":8,"x":1.68,"y":0.03},{"s":8,"x":1.75,"y":0.03},{"s":8,"x":1.82,"y":-0.12},{"s":8,"x":1.9,"y":-0.07},{"s":8,"x":1.97,"y":-0.04},{"s":8,"x":2.05,"y":-0.06},{"s":8,"x":2.12,"y":-0.11},{"s":8,"x":2.2,"y":-0.05},{"s":8,"x":2.3,"y":-0.02},{"s":8,"x":2.4,"y":-0.06},{"s":8,"x":2.5,"y":0.04},{"s":8,"x":2.6,"y":0.1},{"s":8,"x":2.66,"y":0.3},{"s":8,"x":2.71,"y":0.31},{"s":8,"x":2.76,"y":0.34},{"s":8,"x":2.84,"y":0.31},{"s":8,"x":2.9,"y":0.3},{"s":8,"x":2.95,"y":0.18},{"s":8,"x":3.0,"y":0.17},{"s":8,"x":3.07,"y":0.15},{"s":8,"x":3.17,"y":0.11},{"s":8,"x":3.25,"y":0.23},{"s":8,"x":3.3,"y":0.19},{"s":8,"x":3.34,"y":0.19},{"s":8,"x":3.38,"y":0.19},{"s":8,"x":3.43,"y":0.23},{"s":8,"x":3.48,"y":0.22},
{"s":9,"x":0.09,"y":-0.08},{"s":9,"x":0.16,"y":-0.11},{"s":9,"x":0.21,"y":-0.27},{"s":9,"x":0.26,"y":-0.28},{"s":9,"x":0.29,"y":-0.34},{"s":9,"x":0.33,"y":-0.33},{"s":9,"x":0.38,"y":-0.32},{"s":9,"x":0.43,"y":-0.37},{"s":9,"x":0.48,"y":-0.29},{"s":9,"x":0.57,"y":-0.39},{"s":9,"x":0.62,"y":-0.26},{"s":9,"x":0.67,"y":-0.38},{"s":9,"x":0.83,"y":0.06},{"s":9,"x":0.91,"y":0.02},{"s":9,"x":1.0,"y":0.0},{"s":9,"x":1.05,"y":-0.05},{"s":9,"x":1.17,"y":-0.14},{"s":9,"x":1.23,"y":0.03},{"s":9,"x":1.29,"y":0.1},{"s":9,"x":1.36,"y":0.11},{"s":9,"x":1.42,"y":0.13},{"s":9,"x":1.49,"y":-0.07},{"s":9,"x":1.57,"y":0.07},{"s":9,"x":1.62,"y":0.14},{"s":9,"x":1.7,"y":0.28},{"s":9,"x":1.76,"y":-0.19},{"s":9,"x":1.82,"y":-0.17},{"s":9,"x":1.88,"y":0.02},{"s":9,"x":1.95,"y":-0.03},{"s":9,"x":2.01,"y":-0.03},{"s":9,"x":2.07,"y":0.14},{"s":9,"x":2.14,"y":0.19},{"s":9,"x":2.2,"y":0.24},{"s":9,"x":2.26,"y":0.15},{"s":9,"x":2.33,"y":0.31},{"s":9,"x":2.39,"y":0.01},{"s":9,"x":2.46,"y":0.15},{"s":9,"x":2.51,"y":0.16},{"s":9,"x":2.61,"y":0.2},{"s":9,"x":2.68,"y":0.11},{"s":9,"x":2.74,"y":0.06},{"s":9,"x":2.8,"y":0.27},{"s":9,"x":2.88,"y":-0.05},{"s":9,"x":2.94,"y":-0.18},{"s":9,"x":3.0,"y":-0.08},{"s":9,"x":3.12,"y":0.23},{"s":9,"x":3.19,"y":0.32}
],
"c": [
{"s":0,"x":0.36,"y":-0.12},{"s":0,"x":0.45,"y":-0.2},{"s":0,"x":0.55,"y":-0.1},{"s":0,"x":0.65,"y":-0.15},{"s":0,"x":0.74,"y":-0.12},{"s":0,"x":0.87,"y":-0.18},{"s":0,"x":0.93,"y":-0.24},{"s":0,"x":1.0,"y":-0.07},{"s":0,"x":1.07,"y":-0.24},{"s":0,"x":1.15,"y":-0.1},{"s":0,"x":1.22,"y":-0.12},{"s":0,"x":1.31,"y":0.31},{"s":0,"x":1.36,"y":-0.05},{"s":0,"x":1.46,"y":-0.19},{"s":0,"x":1.58,"y":-0.26},{"s":0,"x":1.7,"y":-0.2},{"s":0,"x":1.78,"y":-0.16},{"s":0,"x":1.86,"y":-0.18},{"s":0,"x":1.94,"y":-0.08},{"s":0,"x":2.02,"y":0.02},{"s":0,"x":2.1,"y":-0.05},{"s":0,"x":2.2,"y":0.04},{"s":0,"x":2.29,"y":0.07},{"s":0,"x":2.35,"y":0.02},{"s":0,"x":2.42,"y":-0.13},{"s":0,"x":2.5,"y":-0.05},{"s":0,"x":2.6,"y":0.0},{"s":0,"x":2.68,"y":-0.07},{"s":0,"x":2.75,"y":-0.15},{"s":0,"x":2.85,"y":-0.05},{"s":0,"x":2.95,"y":-0.09},{"s":0,"x":3.0,"y":-0.13},{"s":0,"x":3.05,"y":0.02},{"s":0,"x":3.14,"y":0.0},{"s":0,"x":3.22,"y":-0.01},{"s":0,"x":3.28,"y":0.02},{"s":0,"x":3.36,"y":0.04},{"s":0,"x":3.43,"y":0.1},{"s":0,"x":3.47,"y":0.13},{"s":0,"x":3.52,"y":0.23},{"s":0,"x":3.6,"y":0.27},{"s":0,"x":3.67,"y":0.08},{"s":0,"x":3.74,"y":0.12},{"s":0,"x":3.8,"y":0.28},{"s":0,"x":3.87,"y":0.12},{"s":0,"x":3.95,"y":0.08},{"s":0,"x":4.0,"y":0.13},{"s":0,"x":4.06,"y":0.33},{"s":0,"x":4.12,"y":0.12},{"s":0,"x":4.24,"y":0.33},{"s":0,"x":4.32,"y":0.26},{"s":0,"x":4.37,"y":0.44},{"s":0,"x":4.44,"y":0.37},{"s":0,"x":4.76,"y":0.3},{"s":0,"x":4.83,"y":0.35},{"s":0,"x":4.9,"y":0.3},
{"s":1,"x":0.05,"y":0.18},{"s":1,"x":0.12,"y":0.08},{"s":1,"x":0.2,"y":-0.03},{"s":1,"x":0.28,"y":-0.1},{"s":1,"x":0.35,"y":-0.13},{"s":1,"x":0.42,"y":-0.08},{"s":1,"x":0.5,"y":-0.12},{"s":1,"x":0.58,"y":-0.16},{"s":1,"x":0.66,"y":-0.1},{"s":1,"x":0.74,"y":-0.15},{"s":1,"x":0.82,"y":-0.2},{"s":1,"x":0.9,"y":-0.16},{"s":1,"x":0.98,"y":-0.22},{"s":1,"x":1.06,"y":-0.18},{"s":1,"x":1.14,"y":-0.12},{"s":1,"x":1.22,"y":-0.2},{"s":1,"x":1.3,"y":-0.06},{"s":1,"x":1.38,"y":-0.1},{"s":1,"x":1.46,"y":0.02},{"s":1,"x":1.54,"y":-0.04},{"s":1,"x":1.62,"y":-0.08},{"s":1,"x":1.7,"y":0.04},{"s":1,"x":1.8,"y":0.24},{"s":1,"x":1.86,"y":0.12},{"s":1,"x":1.94,"y":0.0},{"s":1,"x":2.02,"y":-0.1},{"s":1,"x":2.1,"y":-0.07},{"s":1,"x":2.18,"y":0.02},{"s":1,"x":2.26,"y":0.12},{"s":1,"x":2.33,"y":0.2},{"s":1,"x":2.39,"y":0.28},{"s":1,"x":2.46,"y":0.22},{"s":1,"x":2.52,"y":0.22},{"s":1,"x":2.6,"y":0.12},{"s":1,"x":2.7,"y":0.06},{"s":1,"x":2.8,"y":0.04},{"s":1,"x":2.9,"y":-0.02},
{"s":2,"x":0.09,"y":-0.12},{"s":2,"x":0.15,"y":-0.2},{"s":2,"x":0.22,"y":-0.19},{"s":2,"x":0.28,"y":-0.22},{"s":2,"x":0.34,"y":-0.21},{"s":2,"x":0.42,"y":-0.2},{"s":2,"x":0.5,"y":-0.23},{"s":2,"x":0.57,"y":-0.21},{"s":2,"x":0.63,"y":-0.21},{"s":2,"x":0.72,"y":-0.24},{"s":2,"x":0.8,"y":-0.24},{"s":2,"x":0.89,"y":-0.18},{"s":2,"x":0.97,"y":-0.24},{"s":2,"x":1.05,"y":-0.22},{"s":2,"x":1.13,"y":-0.18},{"s":2,"x":1.2,"y":-0.22},{"s":2,"x":1.28,"y":-0.16},{"s":2,"x":1.36,"y":-0.1},{"s":2,"x":1.44,"y":-0.06},{"s":2,"x":1.52,"y":-0.02},{"s":2,"x":1.6,"y":0.02},{"s":2,"x":1.7,"y":0.05},{"s":2,"x":1.8,"y":0.02},{"s":2,"x":1.9,"y":0.06},{"s":2,"x":2.0,"y":0.0},{"s":2,"x":2.1,"y":-0.02},{"s":2,"x":2.2,"y":0.02},{"s":2,"x":2.3,"y":-0.02},{"s":2,"x":2.4,"y":0.04},{"s":2,"x":2.5,"y":0.02},{"s":2,"x":2.6,"y":-0.02},{"s":2,"x":2.7,"y":0.04},{"s":2,"x":2.81,"y":0.08},{"s":2,"x":2.88,"y":0.13},{"s":2,"x":2.94,"y":0.17},{"s":2,"x":3.0,"y":0.12},{"s":2,"x":3.07,"y":0.15},{"s":2,"x":3.13,"y":0.18},{"s":2,"x":3.19,"y":0.19},{"s":2,"x":3.27,"y":0.22},{"s":2,"x":3.34,"y":0.27},{"s":2,"x":3.4,"y":0.29},{"s":2,"x":3.47,"y":0.41},{"s":2,"x":3.56,"y":0.35},{"s":2,"x":3.61,"y":0.46},{"s":2,"x":3.68,"y":0.41},{"s":2,"x":3.74,"y":0.93},{"s":2,"x":3.81,"y":0.47},{"s":2,"x":3.89,"y":0.71},{"s":2,"x":4.07,"y":0.78},{"s":2,"x":4.14,"y":0.8},
{"s":3,"x":0.06,"y":-0.07},{"s":3,"x":0.12,"y":-0.06},{"s":3,"x":0.2,"y":-0.07},{"s":3,"x":0.28,"y":-0.05},{"s":3,"x":0.35,"y":0.07},{"s":3,"x":0.42,"y":-0.02},{"s":3,"x":0.5,"y":-0.04},{"s":3,"x":0.58,"y":-0.01},{"s":3,"x":0.66,"y":0.02},{"s":3,"x":0.74,"y":0.05},{"s":3,"x":0.8,"y":-0.04},{"s":3,"x":0.86,"y":0.12},{"s":3,"x":0.93,"y":0.06},{"s":3,"x":1.0,"y":0.08},{"s":3,"x":1.1,"y":0.12},{"s":3,"x":1.19,"y":0.16},{"s":3,"x":1.26,"y":0.17},{"s":3,"x":1.33,"y":0.1},{"s":3,"x":1.4,"y":0.06},{"s":3,"x":1.5,"y":0.04},{"s":3,"x":1.6,"y":0.08},{"s":3,"x":1.7,"y":0.06},{"s":3,"x":1.8,"y":0.02},{"s":3,"x":1.9,"y":0.04},{"s":3,"x":2.0,"y":0.0},{"s":3,"x":2.1,"y":0.06},{"s":3,"x":2.2,"y":0.02},{"s":3,"x":2.3,"y":0.04},{"s":3,"x":2.4,"y":0.0},{"s":3,"x":2.5,"y":0.02},{"s":3,"x":2.6,"y":0.0},{"s":3,"x":2.7,"y":0.04},{"s":3,"x":2.8,"y":-0.02},{"s":3,"x":2.9,"y":0.02},{"s":3,"x":3.0,"y":0.0},{"s":3,"x":3.1,"y":0.02},{"s":3,"x":3.2,"y":0.03},{"s":3,"x":3.28,"y":0.2},{"s":3,"x":3.34,"y":0.14},{"s":3,"x":3.4,"y":0.08},{"s":3,"x":3.47,"y":0.22},{"s":3,"x":3.55,"y":0.32},{"s":3,"x":3.62,"y":0.45},{"s":3,"x":3.67,"y":0.5},
{"s":4,"x":0.03,"y":-0.02},{"s":4,"x":0.08,"y":0.0},{"s":4,"x":0.15,"y":0.28},{"s":4,"x":0.2,"y":0.2},{"s":4,"x":0.28,"y":0.14},{"s":4,"x":0.35,"y":0.06},{"s":4,"x":0.42,"y":0.02},{"s":4,"x":0.5,"y":-0.02},{"s":4,"x":0.58,"y":0.04},{"s":4,"x":0.66,"y":0.0},{"s":4,"x":0.74,"y":-0.05},{"s":4,"x":0.8,"y":0.02},{"s":4,"x":0.88,"y":-0.04},{"s":4,"x":0.96,"y":0.04},{"s":4,"x":1.04,"y":0.06},{"s":4,"x":1.12,"y":0.1},{"s":4,"x":1.2,"y":0.02},{"s":4,"x":1.3,"y":0.06},{"s":4,"x":1.4,"y":0.02},{"s":4,"x":1.5,"y":0.1},{"s":4,"x":1.6,"y":0.05},{"s":4,"x":1.7,"y":0.0},{"s":4,"x":1.8,"y":0.04},{"s":4,"x":1.9,"y":-0.02},{"s":4,"x":2.0,"y":0.02},{"s":4,"x":2.1,"y":-0.04},{"s":4,"x":2.2,"y":0.06},{"s":4,"x":2.3,"y":0.04},{"s":4,"x":2.42,"y":0.06},{"s":4,"x":2.5,"y":0.1},{"s":4,"x":2.56,"y":0.34},{"s":4,"x":2.62,"y":0.12},{"s":4,"x":2.7,"y":0.04},
{"s":5,"x":0.03,"y":0.0},{"s":5,"x":0.1,"y":0.0},{"s":5,"x":0.18,"y":0.02},{"s":5,"x":0.25,"y":0.0},{"s":5,"x":0.3,"y":0.03},{"s":5,"x":0.36,"y":0.08},{"s":5,"x":0.45,"y":0.0},{"s":5,"x":0.55,"y":0.05},{"s":5,"x":0.65,"y":-0.02},{"s":5,"x":0.75,"y":0.0},{"s":5,"x":0.85,"y":-0.1},{"s":5,"x":0.95,"y":-0.16},{"s":5,"x":1.05,"y":-0.14},{"s":5,"x":1.12,"y":0.04},{"s":5,"x":1.2,"y":0.08},{"s":5,"x":1.3,"y":0.02},{"s":5,"x":1.4,"y":0.0},{"s":5,"x":1.5,"y":0.1},{"s":5,"x":1.58,"y":0.18},{"s":5,"x":1.64,"y":0.28},{"s":5,"x":1.72,"y":0.26},{"s":5,"x":1.84,"y":0.36},{"s":5,"x":1.93,"y":0.24},{"s":5,"x":2.02,"y":0.12},{"s":5,"x":2.1,"y":0.08},{"s":5,"x":2.2,"y":0.16},{"s":5,"x":2.4,"y":0.2},{"s":5,"x":2.5,"y":0.24},{"s":5,"x":2.62,"y":0.26},
{"s":6,"x":0.1,"y":0.03},{"s":6,"x":0.2,"y":0.1},{"s":6,"x":0.27,"y":0.14},{"s":6,"x":0.4,"y":0.07},{"s":6,"x":0.55,"y":0.0},{"s":6,"x":0.7,"y":-0.05},{"s":6,"x":0.85,"y":-0.1},{"s":6,"x":1.0,"y":-0.15},{"s":6,"x":1.08,"y":-0.22},{"s":6,"x":1.15,"y":-0.05},{"s":6,"x":1.25,"y":0.0},{"s":6,"x":1.35,"y":-0.05},{"s":6,"x":1.45,"y":0.1},{"s":6,"x":1.53,"y":0.22},{"s":6,"x":1.6,"y":-0.05},{"s":6,"x":1.75,"y":-0.1},{"s":6,"x":1.9,"y":-0.27},{"s":6,"x":1.95,"y":-0.1},{"s":6,"x":2.0,"y":-0.13},{"s":6,"x":2.3,"y":-0.12},{"s":6,"x":2.6,"y":-0.1},{"s":6,"x":3.0,"y":-0.06},{"s":6,"x":3.3,"y":0.0},{"s":6,"x":3.5,"y":0.02},{"s":6,"x":3.68,"y":0.03},{"s":6,"x":3.71,"y":0.1},{"s":6,"x":3.75,"y":0.05},
{"s":7,"x":0.08,"y":0.0},{"s":7,"x":0.14,"y":0.14},{"s":7,"x":0.2,"y":0.2},{"s":7,"x":0.27,"y":0.23},{"s":7,"x":0.33,"y":0.23},{"s":7,"x":0.39,"y":0.11},{"s":7,"x":0.45,"y":0.24},{"s":7,"x":0.51,"y":0.25},{"s":7,"x":0.57,"y":0.22},{"s":7,"x":0.64,"y":0.25},{"s":7,"x":0.7,"y":0.21},{"s":7,"x":0.81,"y":0.18},{"s":7,"x":0.9,"y":0.16},{"s":7,"x":0.97,"y":0.17},{"s":7,"x":1.04,"y":0.16},{"s":7,"x":1.1,"y":0.17},{"s":7,"x":1.17,"y":0.19},{"s":7,"x":1.23,"y":0.1},{"s":7,"x":1.3,"y":0.03},{"s":7,"x":1.38,"y":0.0},{"s":7,"x":1.46,"y":-0.03},{"s":7,"x":1.55,"y":-0.05},{"s":7,"x":1.64,"y":-0.06},{"s":7,"x":1.74,"y":-0.02},{"s":7,"x":1.82,"y":0.02},{"s":7,"x":1.88,"y":0.1},{"s":7,"x":1.95,"y":0.02},{"s":7,"x":2.0,"y":0.21},{"s":7,"x":2.05,"y":0.0},{"s":7,"x":2.12,"y":-0.04},{"s":7,"x":2.2,"y":-0.04},{"s":7,"x":2.3,"y":-0.05},{"s":7,"x":2.37,"y":-0.07},{"s":7,"x":2.45,"y":-0.04},{"s":7,"x":2.52,"y":-0.08},{"s":7,"x":2.6,"y":-0.05},{"s":7,"x":2.7,"y":-0.06},{"s":7,"x":2.8,"y":-0.03},{"s":7,"x":2.88,"y":-0.04},{"s":7,"x":2.97,"y":-0.06},{"s":7,"x":3.07,"y":-0.07},{"s":7,"x":3.16,"y":-0.07},{"s":7,"x":3.23,"y":-0.03},{"s":7,"x":3.3,"y":0.0},{"s":7,"x":3.37,"y":-0.05},{"s":7,"x":3.43,"y":-0.02},{"s":7,"x":3.48,"y":0.02},{"s":7,"x":3.55,"y":0.02},{"s":7,"x":3.62,"y":0.09},{"s":7,"x":3.71,"y":0.05},{"s":7,"x":3.84,"y":0.01},{"s":7,"x":3.9,"y":-0.04},{"s":7,"x":3.96,"y":-0.03},{"s":7,"x":4.02,"y":0.04},
{"s":8,"x":0.34,"y":-0.03},{"s":8,"x":1.58,"y":-0.33},{"s":8,"x":2.28,"y":-0.27},{"s":8,"x":2.4,"y":-0.12},{"s":8,"x":2.5,"y":0.0},{"s":8,"x":2.58,"y":0.04},{"s":8,"x":2.66,"y":0.02},{"s":8,"x":2.73,"y":0.14},{"s":8,"x":2.78,"y":0.27},{"s":8,"x":2.84,"y":0.15},{"s":8,"x":2.9,"y":0.08},{"s":8,"x":2.96,"y":-0.02},{"s":8,"x":3.02,"y":0.03},{"s":8,"x":3.1,"y":-0.02},{"s":8,"x":3.17,"y":0.04},{"s":8,"x":3.23,"y":0.05},{"s":8,"x":3.3,"y":0.02},{"s":8,"x":3.36,"y":0.04},{"s":8,"x":3.43,"y":0.12},{"s":8,"x":3.47,"y":0.02},
{"s":9,"x":0.09,"y":0.0},{"s":9,"x":0.14,"y":-0.04},{"s":9,"x":0.22,"y":-0.17},{"s":9,"x":0.25,"y":-0.19},{"s":9,"x":0.29,"y":-0.27},{"s":9,"x":0.44,"y":-0.16},{"s":9,"x":0.48,"y":-0.09},{"s":9,"x":0.53,"y":-0.14},{"s":9,"x":0.58,"y":-0.19},{"s":9,"x":0.62,"y":-0.06},{"s":9,"x":0.66,"y":-0.17},{"s":9,"x":0.84,"y":0.28},{"s":9,"x":1.0,"y":0.22},{"s":9,"x":1.17,"y":-0.02},{"s":9,"x":1.23,"y":-0.04},{"s":9,"x":1.29,"y":-0.03},{"s":9,"x":1.35,"y":0.06},{"s":9,"x":1.41,"y":0.09},{"s":9,"x":1.49,"y":-0.07},{"s":9,"x":1.55,"y":0.03},{"s":9,"x":1.62,"y":0.09},{"s":9,"x":1.68,"y":0.17},{"s":9,"x":1.74,"y":-0.15},{"s":9,"x":1.8,"y":-0.18},{"s":9,"x":1.87,"y":0.04},{"s":9,"x":1.94,"y":-0.05},{"s":9,"x":2.0,"y":-0.06},{"s":9,"x":2.07,"y":0.07},{"s":9,"x":2.14,"y":0.11},{"s":9,"x":2.21,"y":0.16},{"s":9,"x":2.27,"y":0.08},{"s":9,"x":2.34,"y":0.18},{"s":9,"x":2.4,"y":-0.05},{"s":9,"x":2.46,"y":0.06},{"s":9,"x":2.52,"y":0.1},{"s":9,"x":2.61,"y":0.14},{"s":9,"x":2.68,"y":0.06},{"s":9,"x":2.74,"y":0.05},{"s":9,"x":2.81,"y":0.15},{"s":9,"x":2.87,"y":0.0},{"s":9,"x":2.94,"y":-0.15},{"s":9,"x":3.0,"y":0.04},{"s":9,"x":3.07,"y":0.01},{"s":9,"x":3.13,"y":0.13},{"s":9,"x":3.19,"y":0.19}
]
},
"vconcat": [
{
 "width": 566, "height": 190,
 "title": {"text": "LSSTCam", "orient": "top", "anchor": "end", "frame": "group", "baseline": "middle", "offset": -32, "dx": -13, "fontSize": 14, "fontWeight": "bold", "color": "#000"},
 "encoding": {
  "x": {"field": "x", "type": "quantitative", "scale": {"domain": [0, 5], "nice": false}, "axis": {"values": [0,1,2,3,4,5], "labels": false, "title": null}},
  "y": {"field": "y", "type": "quantitative", "scale": {"domain": [-0.5, 1], "nice": false}, "axis": {"values": [-0.5,-0.25,0,0.25,0.5,0.75,1], "format": ".2f", "title": ["FWHMₘₑₐₛ − median,", "arcsec"]}},
  "color": {"field": "s", "type": "nominal", "legend": null, "scale": {"domain": [0,1,2,3,4,5,6,7,8,9], "range": ["#8000ff","#4757fb","#0ea4f0","#2adddd","#64fbc3","#9cfba4","#d4dd80","#ffa457","#ff572c","#ff0000"]}}
 },
 "data": {"name": "a"},
 "layer": [
  {"mark": {"type": "line", "strokeWidth": 1.2, "clip": true}},
  {"mark": {"type": "point", "filled": true, "size": 22, "opacity": 1, "clip": true}}
 ]
},
{
 "width": 566, "height": 190,
 "title": {"text": "LBC Blue", "orient": "top", "anchor": "end", "frame": "group", "baseline": "middle", "offset": -32, "dx": -16, "fontSize": 14, "fontWeight": "bold", "color": "#000"},
 "encoding": {
  "x": {"field": "x", "type": "quantitative", "scale": {"domain": [0, 5], "nice": false}, "axis": {"values": [0,1,2,3,4,5], "labels": false, "title": null}},
  "y": {"field": "y", "type": "quantitative", "scale": {"domain": [-0.5, 1], "nice": false}, "axis": {"values": [-0.5,-0.25,0,0.25,0.5,0.75,1], "format": ".2f", "title": ["FWHMₘₑₐₛ − median,", "arcsec"]}},
  "color": {"field": "s", "type": "nominal", "legend": null}
 },
 "data": {"name": "b"},
 "layer": [
  {"mark": {"type": "line", "strokeWidth": 1.2, "clip": true}},
  {"mark": {"type": "point", "filled": true, "size": 22, "opacity": 1, "clip": true}}
 ]
},
{
 "width": 566, "height": 190,
 "title": {"text": "LBC Red", "orient": "top", "anchor": "end", "frame": "group", "baseline": "middle", "offset": -32, "dx": -20, "fontSize": 14, "fontWeight": "bold", "color": "#000"},
 "encoding": {
  "x": {"field": "x", "type": "quantitative", "scale": {"domain": [0, 5], "nice": false}, "axis": {"values": [0,1,2,3,4,5], "format": "d", "labelFlush": false, "title": "Time since last align, hrs", "titlePadding": 4, "titleFontStyle": "normal"}},
  "y": {"field": "y", "type": "quantitative", "scale": {"domain": [-0.5, 1], "nice": false}, "axis": {"values": [-0.5,-0.25,0,0.25,0.5,0.75,1], "format": ".2f", "title": ["FWHMₘₑₐₛ − median,", "arcsec"]}},
  "color": {"field": "s", "type": "nominal", "legend": null}
 },
 "data": {"name": "c"},
 "layer": [
  {"mark": {"type": "line", "strokeWidth": 1.2, "clip": true}},
  {"mark": {"type": "point", "filled": true, "size": 22, "opacity": 1, "clip": true}}
 ]
}
]
}
